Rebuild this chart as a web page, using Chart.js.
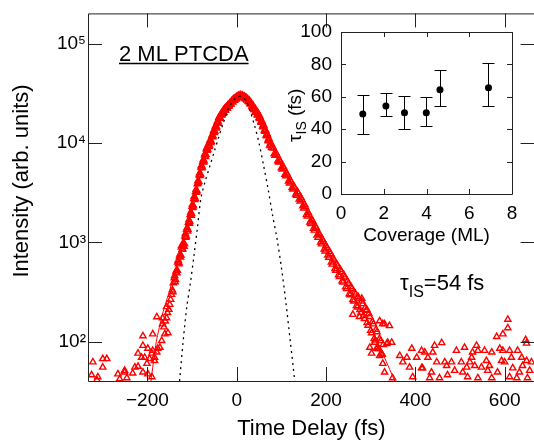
<!DOCTYPE html>
<html>
<head>
<meta charset="utf-8">
<script src="https://cdn.jsdelivr.net/npm/chart.js@4.4.1/dist/chart.umd.min.js"></script>
<style>
    html, body { margin: 0; padding: 0; background: #fff; overflow: hidden; }
    #wrap { position: relative; width: 534px; height: 443px; overflow: hidden; }
    #main { position: absolute; left: 0; top: 0; }
    #inset { position: absolute; left: 270px; top: 10px; }
</style>
</head>
<body>
<div id="wrap">
    <canvas id="main" width="540" height="443"></canvas>
    <canvas id="inset" width="264" height="240"></canvas>
</div>
<script>
// --- main panel: 2PPE intensity vs time delay (log scale) ---
const delayFs = [
    // background, left
    -325, -322, -313, -311, -300, -300, -291, -266, -262, -251, -251, -246, -233, -228, -221, -221,
    -213, -210, -210, -210, -206, -201, -199, -199, -195, -190, -190, -188, -188, -184, -184, -179,
    -179, -177, -172, -168, -166, -166, -161, -157, -157, -154, -150, -146, -143,
    -163, -160, -155, -152, -148, -144, -142,
    // rising edge + peak
    -140, -138, -136, -134, -132, -130, -128, -126, -124, -122, -120, -118, -116, -114, -112, -110,
    -108, -106, -104, -102, -100, -98, -96, -94, -92, -90, -88, -86, -84, -82, -80, -78, -76, -74, -72, -70,
    -68, -66, -64, -62, -60, -58, -56, -54, -52, -50, -48, -46, -44, -42, -40, -38, -36, -34, -32, -30,
    -28, -26, -24, -22, -20, -18, -16, -14, -12, -10, -8, -6, -4, -2, 0, 2, 4, 6, 8, 10,
    12, 14, 16, 18, 20, 22, 24, 26, 28, 30, 32, 34, 36, 38, 40, 42, 44, 46, 48, 50,
    52, 54, 56, 58, 60, 62, 64, 66, 68, 70, 72, 74, 76,
    -139, -137, -135, -133, -131, -129, -127, -125, -123, -121, -119, -117, -115, -113, -111, -109,
    -107, -105, -103, -101, -99, -97, -95, -93, -91, -89, -87, -85, -83, -81, -79, -77, -75, -73, -71, -69,
    -67, -65, -63, -61, -59, -57, -55, -53, -51, -49, -47, -45, -43, -41, -39, -37, -35, -33, -31, -29,
    -27, -25, -23, -21, -19, -17, -15, -13, -11, -9, -7, -5, -3, -1, 1, 3, 5, 7, 9, 11,
    13, 15, 17, 19, 21, 23, 25, 27, 29, 31, 33, 35, 37, 39, 41, 43, 45, 47, 49, 51,
    53, 55, 57, 59, 61, 63, 65, 67, 69, 71, 73, 75,
    // decay
    80, 84, 88, 92, 96, 100, 104, 108, 112, 116, 120, 124, 128, 132, 136, 140, 144, 148, 152, 156,
    160, 164, 168, 172, 176, 180, 184, 188, 192, 196, 200, 204, 208, 212, 216, 220, 224, 228, 232, 236,
    240, 244, 248, 252, 256, 260, 264, 268, 272, 276, 280, 284, 288, 292, 296, 300, 304, 308, 312, 316,
    320, 324, 328,
    78, 82, 86, 90, 94, 98, 102, 106, 110, 114, 118, 122, 126, 130, 134, 138, 142, 146, 150, 154,
    158, 162, 166, 170, 174, 178, 182, 186, 190, 194, 198, 202, 206, 210, 214, 218, 222, 226, 230, 234,
    238, 242, 246, 250, 254, 258, 262, 266, 270, 274, 278, 282, 286, 290, 294, 298, 302, 306, 310, 314,
    318, 322, 326,
    260, 275, 331, 342, 327, 320, 291, 280, 338, 347, 336, 309, 302, 298, 313, 320, 327, 331, 349, 365,
    381, 403, 372, 387, 414, 394, 392, 414,
    // background, right
    607, 607, 596, 582, 647, 649, 459, 443, 439, 421, 428, 448, 416, 436, 432, 454, 466, 470, 481, 488,
    472, 492, 510, 503, 515, 506, 526, 528, 537, 540, 522, 533, 517, 540, 548, 555, 559, 566, 571, 562,
    571, 584, 589, 596, 593, 600, 611, 615, 618, 611, 627, 629, 638, 649, 640, 656, 651, 633, 660
];
const intensity = [
    46, 62, 41, 44, 67, 55, 67, 47, 42, 49, 51, 43, 48, 55, 56, 76,
    69, 49, 114, 91, 69, 60, 47, 85, 67, 76, 44, 119, 81, 69, 64, 177,
    78, 85, 87, 102, 150, 173, 119, 173, 224, 122, 236, 297, 316,
    140, 160, 195, 210, 265, 330, 390,
    437, 398, 501, 490, 631, 603, 724, 708, 891, 851, 940, 910, 1150, 1120, 1350, 1290,
    1580, 1550, 1900, 1860, 2290, 2230, 2750, 2680, 3230, 3170, 3880, 3970, 4780, 4690, 5700, 5600, 6500, 6400, 7600, 7300,
    8700, 8400, 9500, 9200, 10500, 10100, 11600, 11500, 13200, 12700, 14600, 14100, 16000, 15800, 18000, 17600, 19300, 19100, 20700, 20000,
    21900, 21400, 22900, 22400, 24000, 23400, 25100, 24500, 26300, 25900, 27500, 26900, 28200, 27800, 29200, 28800, 29900, 29500, 30200, 29300,
    30000, 29200, 29400, 28500, 28800, 27500, 27900, 26300, 26900, 25100, 25400, 23400, 24000, 22100, 22400, 20700, 21100, 19300, 20000, 18000,
    18400, 16400, 16800, 14800, 15300, 13500, 13600, 12000, 12400, 10700, 11100, 9550, 10000,
    460, 420, 520, 520, 660, 620, 760, 740, 930, 850, 990, 960, 1220, 1150, 1400, 1340,
    1680, 1610, 2010, 1940, 2410, 2320, 2900, 2770, 3400, 3290, 4150, 4100, 5000, 4850, 5950, 5700, 6800, 6600, 7800, 7650,
    9000, 8600, 9800, 9400, 10800, 10400, 12100, 11800, 13500, 13100, 15000, 14500, 16600, 16300, 18400, 17900, 19800, 19300, 21000, 20300,
    22300, 21500, 23300, 22500, 24300, 23600, 25400, 24700, 26800, 26000, 27800, 26900, 28600, 27800, 29600, 28600, 30400, 29000, 30500, 28900,
    30200, 28700, 29500, 28000, 28700, 27000, 27600, 26000, 26500, 24700, 24900, 23100, 23700, 21700, 22200, 20300, 20800, 19100, 19500, 17600,
    17900, 16100, 16300, 14500, 14900, 13100, 13300, 11800, 12000, 10500, 10700, 9400,
    9330, 7760, 7940, 6610, 6760, 5620, 5820, 4840, 4960, 4120, 4220, 3550, 3670, 3060, 3240, 2720, 2820, 2320, 2400, 1900,
    2000, 1590, 1700, 1380, 1450, 1180, 1230, 1000, 1070, 851, 923, 741, 804, 631, 692, 543, 603, 468, 531, 407,
    468, 355, 407, 302, 355, 263, 313, 229, 282, 209, 254, 182, 221, 155, 191, 129, 158, 107, 132, 87,
    107, 76, 93,
    9000, 8900, 7500, 7600, 6400, 6500, 5450, 5550, 4650, 4750, 3950, 4050, 3420, 3530, 2960, 3110, 2600, 2690, 2200, 2270,
    1830, 1900, 1540, 1640, 1320, 1400, 1120, 1190, 960, 1020, 815, 880, 705, 765, 600, 660, 520, 575, 450, 505,
    395, 445, 340, 385, 295, 340, 255, 300, 222, 268, 195, 240, 170, 205, 145, 178, 122, 150, 103, 125,
    84, 102, 74,
    187, 178, 150, 144, 151, 161, 210, 272, 98, 98, 95, 98, 76, 87, 85, 72, 60, 49, 43, 72,
    69, 69, 62, 55, 54, 44, 85, 81,
    167, 137, 119, 112, 104, 96, 97, 91, 78, 78, 69, 62, 54, 49, 43, 43, 62, 57, 62, 51,
    46, 81, 87, 62, 55, 49, 69, 78, 91, 81, 62, 57, 44, 43, 55, 81, 64, 57, 78, 51,
    43, 49, 85, 81, 64, 62, 81, 69, 54, 44, 43, 81, 69, 64, 57, 51, 43, 49, 62
];

// fit (solid red) and cross-correlation (dotted black)
const fitDelayFs = [-192, -180, -166, -150, -135, -120, -105, -90, -75, -60, -45, -30, -15, 0, 10, 20, 35, 50, 65, 80, 100, 150, 200, 250, 300, 354];
const fitIntensity = [40, 100, 190, 330, 560, 950, 1750, 3200, 6000, 9900, 14700, 19800, 24600, 28400, 29500, 28900, 24800, 18600, 13200, 9300, 5900, 2450, 900, 360, 140, 40];
const ccDelayFs = [-128, -120, -112, -104, -96, -88, -80, -70, -60, -50, -40, -30, -20, -10, 0, 10, 20, 30, 40, 50, 60, 70, 80, 90, 100, 110, 120, 130];
const ccIntensity = [40, 100, 220, 380, 720, 1400, 2800, 4200, 5900, 8300, 11600, 16000, 21500, 26000, 29000, 29500, 27000, 21000, 15000, 10000, 6000, 3500, 1900, 1100, 560, 250, 100, 40];

const delayTicks = [-200, 0, 200, 400, 600];
const intensityTicks = [100, 1000, 10000, 100000];
const intensityTickLabels = ["10\u00B2", "10\u00B3", "10\u2074", "10\u2075"];

// --- inset: tau_IS vs coverage ---
const coverageML = [1.02, 2.1, 2.97, 3.99, 4.63, 6.9];
const tauFs = [49.4, 54.3, 50.2, 50.2, 64.4, 65.6];
const tauLowFs = [37, 48.3, 40.1, 42.2, 54.3, 54.3];
const tauHighFs = [61.3, 62.3, 60.2, 60, 76.5, 80.9];
const coverageTicks = [0, 2, 4, 6, 8];
const tauTicks = [0, 20, 40, 60, 80, 100];

const FONT = "'Liberation Sans', Arial, Helvetica, sans-serif";
const INK = "#000";
const FRAME = "#222";

function toPoints(xs, ys) {
    return xs.map((x, i) => ({ x: x, y: ys[i] }));
}

// box + inward ticks on all four sides
const axisFrame = {
    id: "axisFrame",
    afterDraw(chart, args, opts) {
        const { ctx, chartArea: a, scales } = chart;
        const x = scales.x, y = scales.y;
        ctx.save();
        ctx.strokeStyle = opts.color;
        ctx.lineWidth = 1;
        ctx.beginPath();
        ctx.rect(a.left + 0.5, a.top + 0.5, a.right - a.left, a.bottom - a.top);
        x.ticks.forEach(t => {
            const p = Math.round(x.getPixelForValue(t.value)) + 0.5;
            ctx.moveTo(p, a.bottom); ctx.lineTo(p, a.bottom - opts.len);
            ctx.moveTo(p, a.top); ctx.lineTo(p, a.top + opts.len);
        });
        y.ticks.forEach(t => {
            const p = Math.round(y.getPixelForValue(t.value)) + 0.5;
            ctx.moveTo(a.left, p); ctx.lineTo(a.left + opts.len, p);
            ctx.moveTo(a.right, p); ctx.lineTo(a.right - opts.len, p);
        });
        ctx.stroke();
        ctx.restore();
    }
};

// text with a subscript part: parts = [{ text, size, dy }]
function drawParts(ctx, parts) {
    let cx = 0;
    parts.forEach(p => {
        ctx.font = p.size + "px " + FONT;
        ctx.fillText(p.text, cx, p.dy);
        cx += ctx.measureText(p.text).width;
    });
    return cx;
}

const mainLabels = {
    id: "mainLabels",
    afterDraw(chart) {
        const ctx = chart.ctx;
        ctx.save();
        ctx.fillStyle = INK;
        ctx.strokeStyle = INK;
        ctx.textBaseline = "alphabetic";
        // "2 ML PTCDA" underlined
        ctx.translate(119, 61);
        const w = drawParts(ctx, [{ text: "2 ML PTCDA", size: 22, dy: 0 }]);
        ctx.lineWidth = 1.5;
        ctx.beginPath();
        ctx.moveTo(0, 2.5); ctx.lineTo(w, 2.5);
        ctx.stroke();
        ctx.setTransform(1, 0, 0, 1, 0, 0);
        // tau_IS = 54 fs
        ctx.translate(400, 290);
        drawParts(ctx, [
            { text: "\u03C4", size: 22, dy: 0 },
            { text: "IS", size: 16, dy: 7 },
            { text: "=54 fs", size: 22, dy: 0 }
        ]);
        ctx.setTransform(1, 0, 0, 1, 0, 0);
        // y axis title (sits a little above the plot middle, as in the original)
        ctx.translate(22, 181);
        ctx.rotate(-Math.PI / 2);
        ctx.textAlign = "center";
        ctx.textBaseline = "middle";
        ctx.font = "22px " + FONT;
        ctx.fillText("Intensity (arb. units)", 0, 0);
        ctx.restore();
    }
};

const errorBars = {
    id: "errorBars",
    beforeDatasetsDraw(chart) {
        const { ctx, scales: { x, y } } = chart;
        ctx.save();
        ctx.strokeStyle = INK;
        ctx.lineWidth = 1;
        ctx.beginPath();
        coverageML.forEach((c, i) => {
            const px = Math.round(x.getPixelForValue(c)) + 0.5;
            const lo = Math.round(y.getPixelForValue(tauLowFs[i])) + 0.5;
            const hi = Math.round(y.getPixelForValue(tauHighFs[i])) + 0.5;
            ctx.moveTo(px, lo); ctx.lineTo(px, hi);
            ctx.moveTo(px - 6, lo); ctx.lineTo(px + 6, lo);
            ctx.moveTo(px - 6, hi); ctx.lineTo(px + 6, hi);
        });
        ctx.stroke();
        ctx.restore();
    }
};

const insetYTitle = {
    id: "insetYTitle",
    afterDraw(chart) {
        const ctx = chart.ctx;
        ctx.save();
        ctx.fillStyle = INK;
        ctx.textBaseline = "alphabetic";
        ctx.translate(31, 132);
        ctx.rotate(-Math.PI / 2);
        drawParts(ctx, [
            { text: "\u03C4", size: 19, dy: 0 },
            { text: "IS", size: 14, dy: 5 },
            { text: " (fs)", size: 19, dy: 0 }
        ]);
        ctx.restore();
    }
};

function tickFont(size) {
    return { family: FONT, size: size };
}

new Chart(document.getElementById("main"), {
    type: "scatter",
    data: {
        datasets: [
            {
                label: "cross-correlation",
                data: toPoints(ccDelayFs, ccIntensity),
                showLine: true,
                borderColor: "#000",
                borderWidth: 1.3,
                borderDash: [2, 4],
                pointRadius: 0,
                tension: 0.3,
            },
            {
                label: "data",
                data: toPoints(delayFs, intensity),
                pointStyle: "triangle",
                pointRadius: 3.6,
                borderWidth: 1.4,
                borderColor: "#ff0000",
                backgroundColor: "rgba(0,0,0,0)",
            },
            {
                label: "fit",
                data: toPoints(fitDelayFs, fitIntensity),
                showLine: true,
                borderColor: "#ff0000",
                borderWidth: 1,
                pointRadius: 0,
                tension: 0.2,
            },
        ],
    },
    options: {
        responsive: false,
        animation: false,
        events: [],
        layout: { padding: { top: 8, right: 5, left: 0, bottom: 0 } },
        plugins: {
            legend: { display: false },
            tooltip: { enabled: false },
            axisFrame: { len: 14, color: FRAME },
        },
        scales: {
            x: {
                type: "linear",
                min: -333,
                max: 667,
                afterBuildTicks: s => { s.ticks = delayTicks.map(v => ({ value: v })); },
                afterFit: s => { s.height = 62; },
                grid: { display: false, drawTicks: false },
                border: { display: false },
                ticks: {
                    color: INK, font: tickFont(19), padding: 8, maxRotation: 0,
                    callback: v => (v < 0 ? "\u2212" + Math.abs(v) : String(v)),
                },
                title: {
                    display: true, text: "Time Delay (fs)", color: INK,
                    font: tickFont(22), padding: { top: 0, bottom: 1 },
                },
            },
            y: {
                type: "logarithmic",
                min: 40,
                max: 203000,
                afterBuildTicks: s => { s.ticks = intensityTicks.map(v => ({ value: v })); },
                afterFit: s => { s.width = 88; },
                grid: { display: false, drawTicks: false },
                border: { display: false },
                ticks: {
                    color: INK, font: tickFont(19), padding: 2,
                    callback: (v, i) => intensityTickLabels[i],
                },
            },
        },
    },
    plugins: [axisFrame, mainLabels],
});

new Chart(document.getElementById("inset"), {
    type: "scatter",
    data: {
        datasets: [
            {
                label: "tau",
                data: toPoints(coverageML, tauFs),
                pointRadius: 3.5,
                backgroundColor: "#000",
                borderColor: "#000",
                borderWidth: 0,
            },
        ],
    },
    options: {
        responsive: false,
        animation: false,
        events: [],
        layout: { padding: { top: 22, right: 22, left: 0, bottom: 0 } },
        plugins: {
            legend: { display: false },
            tooltip: { enabled: false },
            axisFrame: { len: 5, color: FRAME },
        },
        scales: {
            x: {
                type: "linear",
                min: 0,
                max: 8,
                afterBuildTicks: s => { s.ticks = coverageTicks.map(v => ({ value: v })); },
                afterFit: s => { s.height = 56; },
                grid: { display: false, drawTicks: false },
                border: { display: false },
                ticks: { color: INK, font: tickFont(19), padding: 8, maxRotation: 0 },
                title: {
                    display: true, text: "Coverage (ML)", color: INK,
                    font: tickFont(19), padding: { top: 0, bottom: 3 },
                },
            },
            y: {
                type: "linear",
                min: 0,
                max: 100,
                afterBuildTicks: s => { s.ticks = tauTicks.map(v => ({ value: v })); },
                afterFit: s => { s.width = 71; },
                grid: { display: false, drawTicks: false },
                border: { display: false },
                ticks: { color: INK, font: tickFont(19), padding: 9 },
            },
        },
    },
    plugins: [axisFrame, errorBars, insetYTitle],
});
</script>
</body>
</html>
